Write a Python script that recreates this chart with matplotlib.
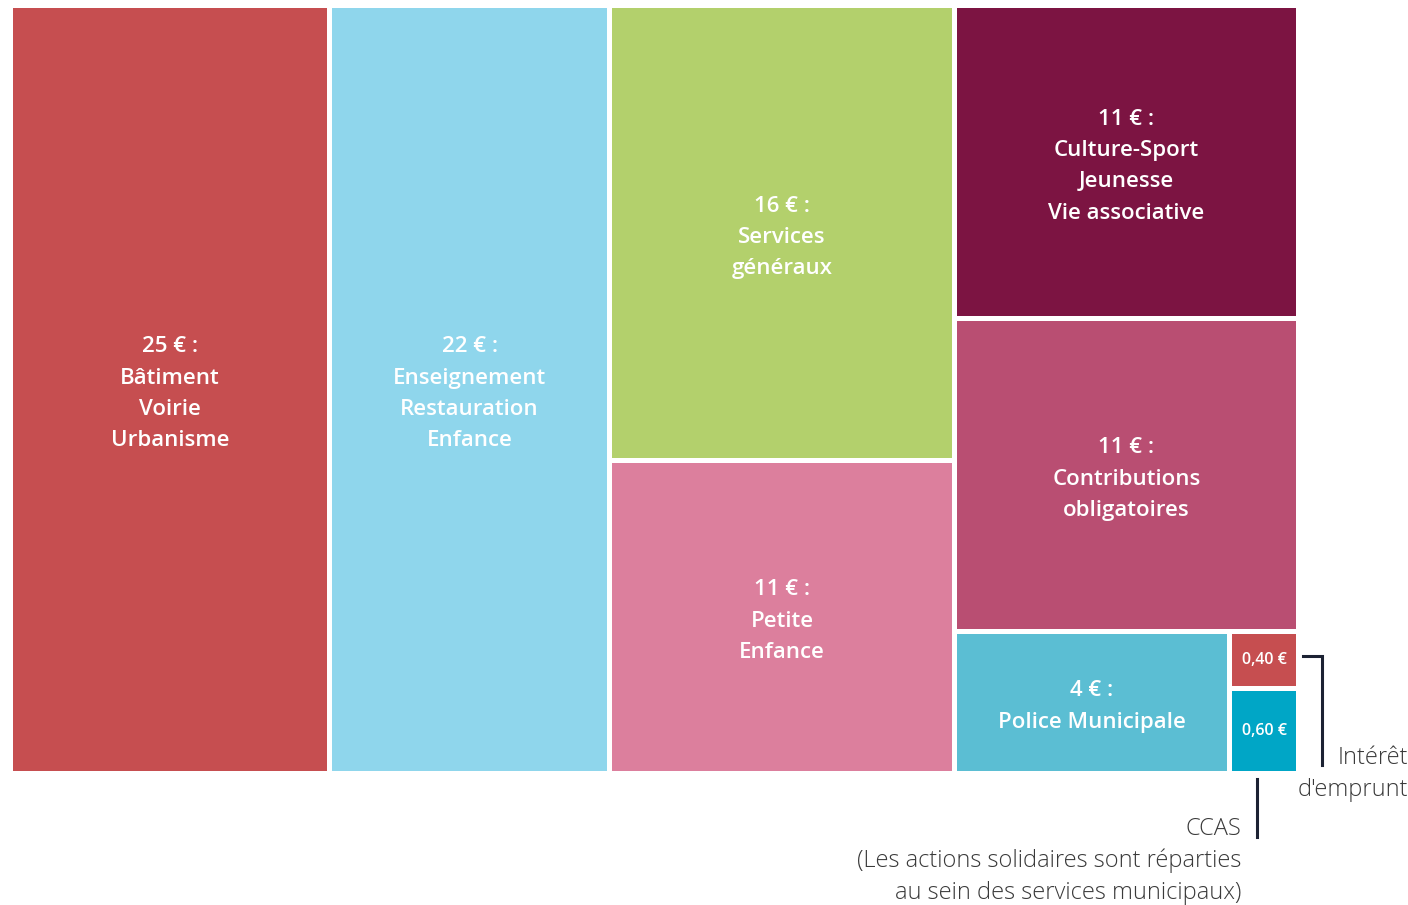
import matplotlib
matplotlib.use("Agg")
import matplotlib.pyplot as plt
from matplotlib.patches import Rectangle

# données
values = [25, 22, 16, 11, 11, 11, 4, 0.4, 0.6]
value_labels = ["25 €", "22 €", "16 €", "11 €", "11 €", "11 €", "4 €", "0,40 €", "0,60 €"]
names = [
    "Bâtiment\nVoirie\nUrbanisme",
    "Enseignement\nRestauration\nEnfance",
    "Services\ngénéraux",
    "Petite\nEnfance",
    "Culture-Sport\nJeunesse\nVie associative",
    "Contributions\nobligatoires",
    "Police Municipale",
    "",
    "",
]
colors = ["#C64E50", "#8FD6EC", "#B3D06C", "#DC7F9D", "#7C1442",
          "#B94E72", "#5BBED3", "#C64E50", "#00A6C6"]

# structure du treemap (h = côte à côte, v = empilé)
tree = ("h", [0, 1, ("v", [2, 3]), ("v", [4, 5, ("h", [6, ("v", [7, 8])])])])


def total(node):
    if isinstance(node, int):
        return values[node]
    return sum(total(c) for c in node[1])


def layout(node, x, y, w, h, out):
    if isinstance(node, int):
        out[node] = (x, y, w, h)
        return
    kind, children = node
    s = total(node)
    pos = x if kind == "h" else y
    for c in children:
        frac = total(c) / s
        if kind == "h":
            layout(c, pos, y, w * frac, h, out)
            pos += w * frac
        else:
            layout(c, x, pos, w, h * frac, out)
            pos += h * frac


rects = {}
layout(tree, 10.5, 6, 1288, 767.5, rects)

fig = plt.figure(figsize=(14.08, 9.05), dpi=100)
ax = fig.add_axes([0, 0, 1, 1])
ax.set_xlim(0, 1408)
ax.set_ylim(905, 0)
ax.axis("off")

gap = 2.4
font = "Open Sans"
for i, (x, y, w, h) in rects.items():
    ax.add_patch(Rectangle((x + gap, y + gap), w - 2 * gap, h - 2 * gap,
                           facecolor=colors[i], edgecolor="none"))
    cx, cy = x + w / 2, y + h / 2
    if names[i]:
        ax.text(cx, cy + 4, value_labels[i] + " :\n" + names[i], ha="center", va="center",
                color="white", fontsize=16, family=font, fontweight="semibold",
                linespacing=1.64)
    else:
        ax.text(cx, cy, value_labels[i], ha="center", va="center",
                color="white", fontsize=11.5, family=font, fontweight="semibold")

# annotations
line_col = "#1c2233"
txt_col = "#3a3a3a"
ax.plot([1303, 1322, 1322], [656, 656, 765], color=line_col, lw=2.2,
        solid_joinstyle="miter")
ax.text(1408, 774, "Intérêt\nd'emprunt", ha="right", va="center", color=txt_col,
        fontsize=17, family=font, fontweight="light", linespacing=1.43)

ax.plot([1257, 1257], [779, 837], color=line_col, lw=2.2)
ax.text(1241, 861, "CCAS\n(Les actions solidaires sont réparties\nau sein des services municipaux)",
        ha="right", va="center", color=txt_col, fontsize=17, family=font,
        fontweight="light", linespacing=1.43)

fig.savefig("out.png", dpi=100)
